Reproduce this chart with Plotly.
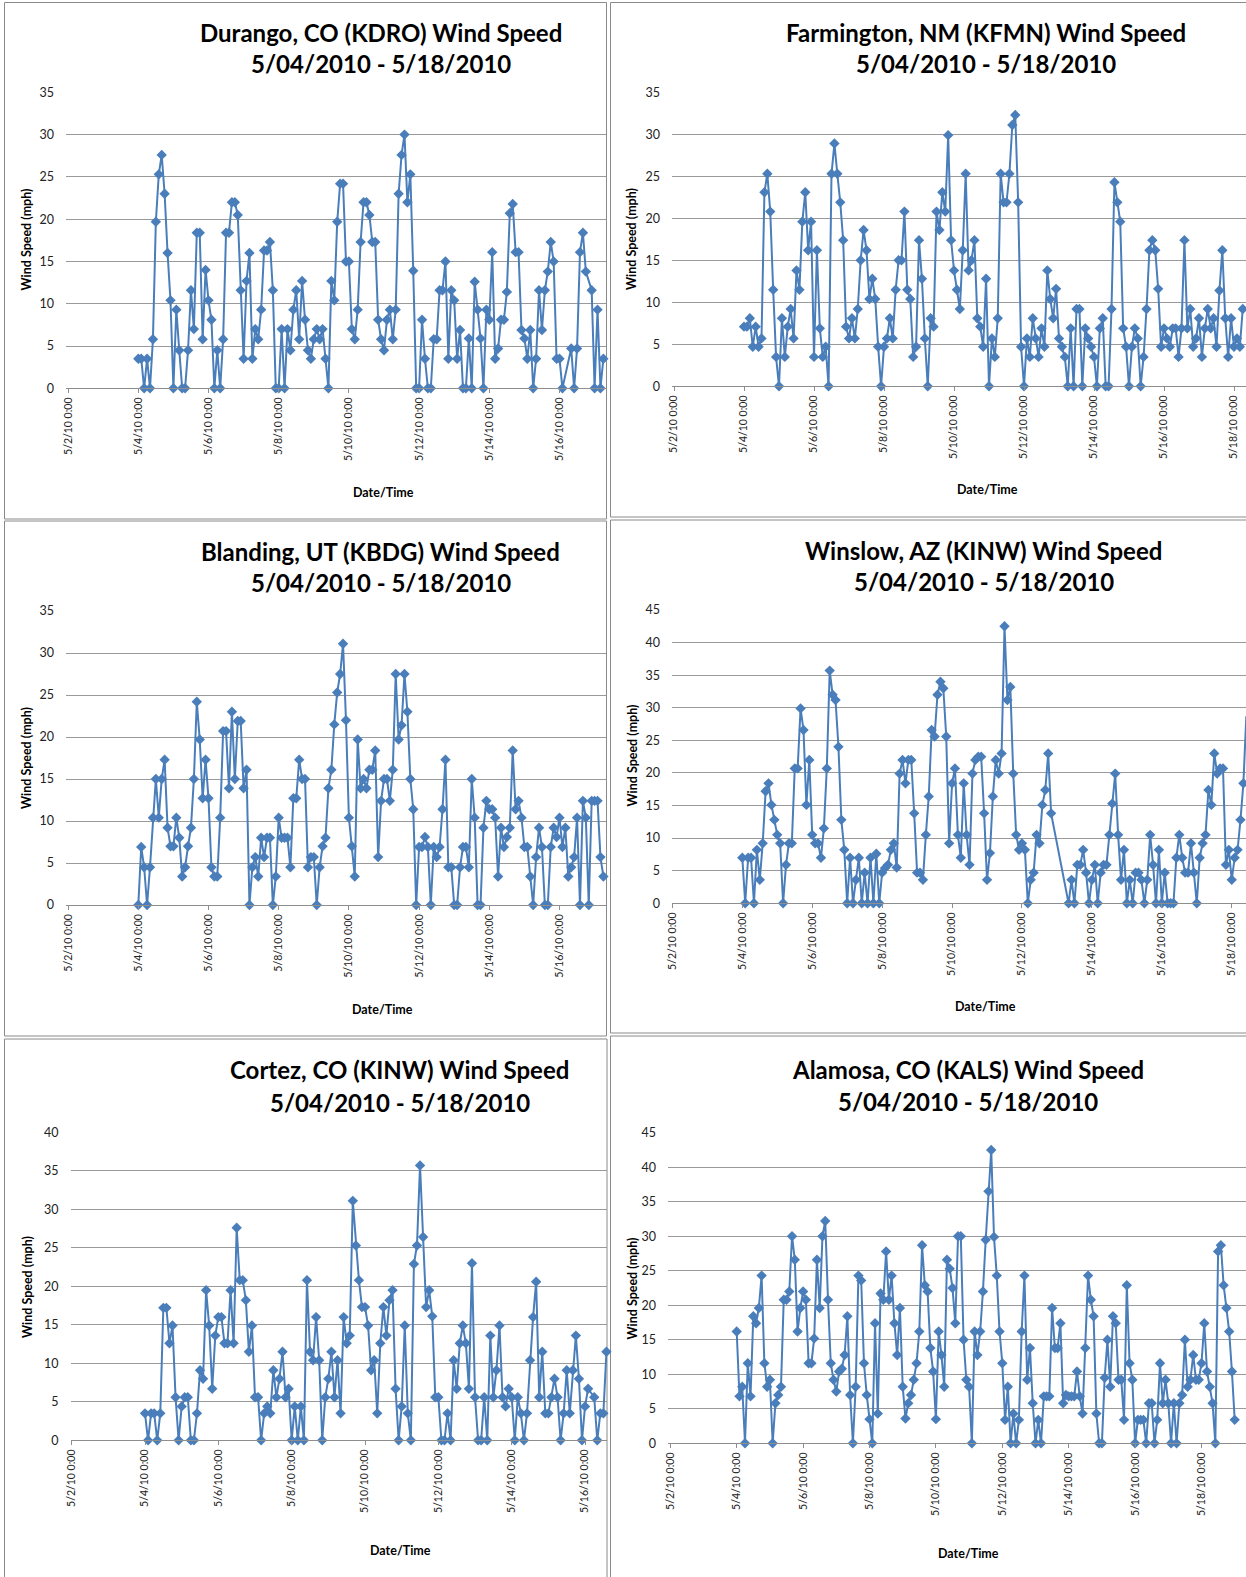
import pandas as pd
import plotly.graph_objects as go

W, H = 1246, 1577
START = pd.Timestamp("2010-05-04 00:00")
STEP = "2h"
BLUE = "#4A7EBB"
FONT = "Lato, 'Open Sans', sans-serif"

# ---------------- data: wind speed (mph), 2-hour readings from 5/4/2010 0:00 ----------------
durango = (
    [3.5, 3.5, 0, 3.5, 0, 5.8, 19.7, 25.3, 27.6, 23, 16, 10.4]
    + [0, 9.3, 4.5, 0, 0, 4.5, 11.6, 7, 18.4, 18.4, 5.8, 14]
    + [10.4, 8.1, 0, 4.5, 0, 5.8, 18.4, 18.4, 22, 22, 20.5, 11.6]
    + [3.5, 12.7, 16, 3.5, 7, 5.8, 9.3, 16.3, 16.3, 17.3, 11.6, 0]
    + [0, 7, 0, 7, 4.5, 9.3, 11.6, 5.8, 12.7, 8.1, 4.5, 3.5]
    + [5.8, 7, 5.8, 7, 3.5, 0, 12.7, 10.4, 19.7, 24.2, 24.2, 15]
    + [15, 7, 5.8, 9.3, 17.3, 22, 22, 20.5, 17.3, 17.3, 8.1, 5.8]
    + [4.5, 8.1, 9.3, 5.8, 9.3, 23, 27.6, 30, 22, 25.3, 13.9, 0]
    + [0, 8.1, 3.5, 0, 0, 5.8, 5.8, 11.6, 11.6, 15, 3.5, 11.6]
    + [10.4, 3.5, 6.9, 0, 0, 5.9, 0, 12.6, 9.3, 5.9, 0, 9.3]
    + [8.1, 16.1, 3.5, 4.7, 8.1, 8.1, 11.4, 20.7, 21.8, 16.1, 16.1, 6.9]
    + [5.9, 3.5, 6.9, 0, 3.5, 11.6, 6.9, 11.6, 13.8, 17.3, 15, 3.5]
    + [3.5, 0, None, None, 4.7, 0, 4.7, 16.1, 18.4, 13.8, None, 11.6]
    + [0, 9.3, 0, 3.5]
)
farmington = (
    [7.1, 7.1, 8.1, 4.7, 7.1, 4.7, 5.7, 23.1, 25.3, 20.8, 11.5, 3.5]
    + [0, 8.1, 3.5, 7.1, 9.2, 5.7, 13.8, 11.5, 19.6, 23.1, 16.2, 19.6]
    + [3.5, 16.2, 6.9, 3.5, 4.7, 0, 25.3, 28.9, 25.3, 21.9, 17.4, 7.1]
    + [5.7, 8.1, 5.7, 9.2, 15, 18.6, 16.2, 10.4, 12.8, 10.4, 4.7, 0]
    + [4.7, 5.7, 8.1, 5.7, 11.5, 15, 15, 20.8, 11.5, 10.4, 3.5, 4.7]
    + [17.4, 12.8, 5.7, 0, 8.1, 7.1, 20.8, 18.6, 23.1, 20.8, 29.9, 17.4]
    + [13.8, 11.5, 9.2, 16.2, 25.3, 13.8, 15, 17.4, 8.1, 7.1, 4.7, 12.8]
    + [0, 5.7, 3.5, 8.1, 25.3, 21.9, 21.9, 25.3, 31.1, 32.3, 21.9, 4.7]
    + [0, 5.7, 3.5, 8.1, 5.7, 3.5, 6.9, 4.7, 13.8, 10.4, 8.1, 11.6]
    + [5.7, 4.7, 3.5, 0, 6.9, 0, 9.2, 9.2, 0, 6.9, 5.7, 4.7]
    + [3.5, 0, 6.9, 8.1, 0, 0, 9.2, 24.3, 21.9, 19.6, 6.9, 4.7]
    + [0, 4.7, 6.9, 5.7, 0, 3.5, 9.2, 16.2, 17.4, 16.2, 11.6, 4.7]
    + [6.9, 5.7, 4.7, 6.9, 6.9, 3.5, 6.9, 17.4, 6.9, 9.2, 4.7, 5.7]
    + [8.1, 3.5, 6.9, 9.2, 6.9, 8.1, 4.7, 11.4, 16.2, 8.1, 3.5, 8.1]
    + [4.7, 5.7, 4.7, 9.2]
)
blanding = (
    [0, 6.9, 4.5, 0, 4.5, 10.4, 15, 10.4, 15, 17.3, 9.2, 7]
    + [7, 10.4, 8, 3.4, 4.5, 7, 9.2, 15, 24.2, 19.7, 12.7, 17.3]
    + [12.7, 4.5, 3.4, 3.4, 10.4, 20.7, 20.7, 13.9, 23, 15, 21.9, 21.9]
    + [13.9, 16.1, 0, 4.5, 5.7, 3.4, 8, 5.7, 8, 8, 0, 3.4]
    + [10.4, 8, 8, 8, 4.5, 12.7, 12.7, 17.3, 15, 15, 4.5, 5.7]
    + [5.7, 0, 4.5, 7, 8, 13.9, 16.1, 21.5, 25.3, 27.5, 31.1, 22]
    + [10.4, 7, 3.4, 19.7, 13.9, 15, 13.9, 16.1, 16.1, 18.4, 5.7, 12.4]
    + [15, 15, 12.4, 16.1, 27.5, 19.7, 21.4, 27.5, 23, 15, 11.4, 0]
    + [6.9, 6.9, 8.1, 6.9, 0, 6.9, 5.7, 6.9, 11.4, 17.3, 4.5, 4.5]
    + [0, 0, 4.5, 6.9, 6.9, 4.5, 15, 10.4, 0, 0, 9.2, 12.4]
    + [11.4, 11.4, 10.4, 3.4, 9.2, 6.9, 8.1, 9.2, 18.4, 11.4, 12.4, 10.4]
    + [6.9, 6.9, 3.4, 0, 5.7, 9.2, 6.9, 0, 0, 6.9, 9.2, 8.1]
    + [10.4, 6.9, 9.2, 3.4, 4.5, 5.7, 10.4, 0, 12.4, 10.4, 0, 12.4]
    + [12.4, 12.4, 5.7, 3.4]
)
winslow = (
    [7, 0, 7, 7, 0, 8.2, 3.6, 9.2, 17.2, 18.4, 15.1, 12.8]
    + [10.5, 9.2, 0, 5.9, 9.2, 9.2, 20.7, 20.7, 29.9, 26.6, 15.1, 22]
    + [10.5, 9.2, 9.2, 7, 11.5, 20.7, 35.7, 32, 31.2, 24, 12.8, 8.2]
    + [0, 7, 0, 3.6, 7, 0, 4.7, 0, 7, 0, 7.6, 0]
    + [4.7, 5.4, 5.9, 8.2, 9.2, 5.5, 19.9, 22, 18.4, 22, 22, 13.8]
    + [4.7, 4.7, 3.6, 10.5, 16.4, 26.6, 25.6, 32, 34, 33, 25.6, 9.2]
    + [18.4, 20.7, 10.5, 7, 18.4, 10.5, 5.9, 19.9, 22, 22.5, 22.5, 13.8]
    + [3.6, 7.7, 16.4, 22, 19.9, 23, 42.5, 31.2, 33.2, 19.9, 10.5, 8.2]
    + [9.2, 8.2, 0, 3.6, 4.7, 10.5, 9.2, 15.1, 17.4, 23, 13.8, None]
    + [None, None, None, None, 0, 3.6, 0, 5.9, 5.9, 8.2, 4.7, 0]
    + [3.6, 5.9, 0, 4.7, 5.9, 5.9, 10.5, 15.3, 19.9, 10.5, 3.6, 8.2]
    + [0, 3.6, 0, 4.7, 4.7, 3.6, 0, 3.6, 10.5, 5.9, 0, 8.2]
    + [0, 4.7, 0, 0, 0, 7, 10.5, 7, 4.7, 4.7, 9.2, 4.7]
    + [0, 7, 9.2, 10.5, 17.4, 15.1, 23, 19.9, 20.7, 20.7, 5.9, 8.2]
    + [3.6, 7, 8.2, 12.8, 18.4, 28.7]
)
cortez = (
    [3.5, 0, 3.5, 3.5, 0, 3.5, 17.2, 17.2, 12.6, 14.9, 5.6, 0]
    + [4.4, 5.6, 5.6, 0, 0, 3.5, 9.1, 8, 19.5, 14.9, 6.7, 13.6]
    + [16, 16, 12.6, 12.6, 19.5, 12.6, 27.6, 20.8, 20.8, 18.2, 11.5, 14.9]
    + [5.6, 5.6, 0, 3.5, 4.4, 3.5, 9.1, 5.6, 8, 11.5, 5.6, 6.7]
    + [0, 4.4, 0, 4.4, 0, 20.8, 11.5, 10.4, 16, 10.4, 0, 5.6]
    + [8, 11.5, 5.6, 10.4, 3.5, 16, 12.6, 13.6, 31.1, 25.3, 20.8, 17.3]
    + [17.3, 14.9, 9.1, 10.4, 3.5, 12.6, 17.3, 13.6, 18.2, 19.5, 6.7, 0]
    + [4.4, 14.9, 3.5, 0, 22.9, 25.3, 35.7, 26.4, 17.3, 19.5, 16.1, 5.6]
    + [5.6, 0, 0, 3.5, 0, 10.4, 6.7, 12.6, 14.9, 12.6, 6.7, 23]
    + [5.6, 0, 0, 5.6, 0, 13.6, 5.6, 9.1, 14.9, 5.6, 4.4, 6.7]
    + [5.6, 0, 5.6, 3.5, 0, 3.5, 10.4, 16, 20.6, 5.6, 11.5, 3.5]
    + [3.5, 5.6, 8, 5.6, 0, 3.5, 9.1, 3.5, 9.1, 13.6, 8, 0]
    + [4.4, 6.7, None, 5.6, 0, 3.5, 3.5, 11.5]
)
alamosa = (
    [16.2, 6.8, 8.2, 0, 11.6, 6.8, 18.4, 17.4, 19.6, 24.3, 11.6, 8.2]
    + [9.2, 0, 5.8, 7, 8.2, 20.8, 20.8, 22, 30, 26.6, 16.2, 19.6]
    + [22, 20.8, 11.6, 11.6, 15.2, 26.6, 19.6, 30, 32.2, 20.8, 11.6, 9.2]
    + [7.5, 10.4, 10.8, 12.8, 18.4, 7, 0, 8.2, 24.3, 23.6, 11.6, 7]
    + [3.5, 0, 17.4, 4.3, 21.7, 20.8, 27.8, 20.8, 24.3, 17.4, 12.8, 19.6]
    + [8.2, 3.6, 5.8, 7, 9.2, 11.6, 16.2, 28.7, 22.9, 22, 13.8, 10.4]
    + [3.5, 16.2, 12.8, 8.2, 26.6, 25.3, 22.5, 17.4, 30, 30, 15, 9.2]
    + [8.2, 0, 16.2, 12.8, 16.2, 22, 29.5, 36.5, 42.5, 29.9, 24.3, 16.2]
    + [11.6, 3.4, 8.2, 0, 4.3, 0, 3.4, 16.2, 24.3, 9.2, 13.8, 5.8]
    + [0, 3.4, 0, 6.8, 6.8, 6.8, 19.6, 13.8, 13.8, 17.4, 5.8, 7]
    + [6.8, 6.8, 6.8, 10.4, 6.8, 4.3, 13.8, 24.3, 20.8, 18.4, 4.3, 0]
    + [0, 9.5, 15, 8.2, 18.4, 17.4, 9.2, 9.2, 3.4, 22.9, 11.6, 9.2]
    + [0, 3.4, 3.4, 3.4, 0, 5.8, 5.8, 0, 3.4, 11.6, 5.8, 9.2]
    + [5.8, 0, 5.8, 0, 5.8, 7, 15, 8.2, 9.2, 12.8, 9.2, 9.2]
    + [11.6, 17.4, 10.4, 8.2, 5.8, 0, 27.8, 28.7, 22.9, 19.6, 16.2, 10.4, 3.4]
)

titles = [
    "Durango, CO (KDRO) Wind Speed",
    "Farmington, NM (KFMN) Wind Speed",
    "Blanding, UT (KBDG) Wind Speed",
    "Winslow, AZ (KINW) Wind Speed",
    "Cortez, CO (KINW) Wind Speed",
    "Alamosa, CO (KALS) Wind Speed",
]
subtitle = "5/04/2010 - 5/18/2010"
y_title = "Wind Speed (mph)"
x_title = "Date/Time"
tick_days = pd.date_range("2010-05-02", "2010-05-20", freq="2D")
tick_text = [f"{d.month}/{d.day}/10 0:00" for d in tick_days]

# ---------------- layout geometry (pixels) ----------------
panels = [
    dict(vals=durango, ymax=35, x54=138.3, pday=35.1, left=66, right=606, ytop=92.3, ybot=388.3,
         box=(4.5, 2.5, 606.5, 519), tx=381, t1=32.5, t2=63.5, yt=(26, 239.5), xt=(383, 492)),
    dict(vals=farmington, ymax=35, x54=744.0, pday=35.0, left=672, right=1246, ytop=92.3, ybot=386.3,
         box=(610.5, 2.5, 1252, 517), tx=986, t1=32.5, t2=63.5, yt=(631.5, 239.5), xt=(987.5, 489)),
    dict(vals=blanding, ymax=35, x54=138.3, pday=35.1, left=66, right=606, ytop=611, ybot=905,
         box=(4.5, 521, 606.5, 1036), tx=380.7, t1=551, t2=582.5, yt=(26, 758), xt=(382, 1009)),
    dict(vals=winslow, ymax=45, x54=742.3, pday=34.96, left=672, right=1246, ytop=610, ybot=903.3,
         box=(610.5, 520, 1252, 1033), tx=983.6, t1=550, t2=581.5, yt=(631.5, 756), xt=(985.5, 1006)),
    dict(vals=cortez, ymax=40, x54=145.0, pday=36.67, left=70.5, right=607, ytop=1132.3, ybot=1440.3,
         box=(4.5, 1039, 607, 1590), tx=399.8, t1=1069, t2=1102, yt=(27, 1287), xt=(400, 1550)),
    dict(vals=alamosa, ymax=45, x54=736.7, pday=33.2, left=668, right=1246, ytop=1132.7, ybot=1443.3,
         box=(610.5, 1036, 1252, 1590), tx=967.5, t1=1069, t2=1101, yt=(631.5, 1289), xt=(968.5, 1553)),
]


def px(x):
    return x / W


def py(y):
    return 1 - y / H


fig = go.Figure()
layout = {}
annotations = []
shapes = []

for i, p in enumerate(panels, start=1):
    xa = "x" if i == 1 else f"x{i}"
    ya = "y" if i == 1 else f"y{i}"
    times = pd.date_range(START, periods=len(p["vals"]), freq=STEP)
    fig.add_trace(go.Scatter(
        x=times, y=p["vals"], mode="lines+markers", connectgaps=True,
        xaxis=xa, yaxis=ya, showlegend=False, cliponaxis=False, hoverinfo="skip",
        line=dict(color=BLUE, width=2),
        marker=dict(symbol="diamond", size=8, color=BLUE),
    ))
    x0 = START + pd.Timedelta(days=(p["left"] - p["x54"]) / p["pday"])
    x1 = START + pd.Timedelta(days=(p["right"] - p["x54"]) / p["pday"])
    layout[f"xaxis{i}"] = dict(
        domain=[px(p["left"]), px(p["right"])], anchor=ya, type="date", automargin=False,
        range=[x0, x1], tickmode="array", tickvals=list(tick_days), ticktext=tick_text,
        tickangle=-90, tickfont=dict(family=FONT, size=10.5, color="#222"),
        showgrid=False, showline=True, linecolor="#8e8e8e", linewidth=1,
        ticks="outside", ticklen=4, tickcolor="#8e8e8e", zeroline=False,
    )
    layout[f"yaxis{i}"] = dict(
        domain=[py(p["ybot"]), py(p["ytop"])], anchor=xa, range=[0, p["ymax"]], automargin=False,
        tickmode="linear", tick0=0, dtick=5, showgrid=True, gridcolor="#9a9a9a",
        gridwidth=1, zeroline=False, showline=False, ticks="",
        tickfont=dict(family=FONT, size=12.5, color="#222"), ticklabelstandoff=11,
    )
    bx0, by0, bx1, by1 = p["box"]
    shapes.append(dict(type="rect", xref="paper", yref="paper",
                       x0=px(bx0), x1=px(bx1), y0=py(by1), y1=py(by0),
                       line=dict(color="#8a8a8a", width=1), layer="below"))
    annotations += [
        dict(text=f"<b>{titles[i-1]}</b>", x=px(p["tx"]), y=py(p["t1"]), xref="paper", yref="paper",
             showarrow=False, xanchor="center", yanchor="middle",
             font=dict(family=FONT, size=24, color="#000")),
        dict(text=f"<b>{subtitle}</b>", x=px(p["tx"]), y=py(p["t2"]), xref="paper", yref="paper",
             showarrow=False, xanchor="center", yanchor="middle",
             font=dict(family=FONT, size=24, color="#000")),
        dict(text=f"<b>{y_title}</b>", x=px(p["yt"][0]), y=py(p["yt"][1]), xref="paper", yref="paper",
             showarrow=False, xanchor="center", yanchor="middle", textangle=-90,
             font=dict(family=FONT, size=12.5, color="#000")),
        dict(text=f"<b>{x_title}</b>", x=px(p["xt"][0]), y=py(p["xt"][1]), xref="paper", yref="paper",
             showarrow=False, xanchor="center", yanchor="middle",
             font=dict(family=FONT, size=12.5, color="#000")),
    ]

fig.update_layout(
    template="none",
    width=W, height=H, margin=dict(l=0, r=0, t=0, b=0, pad=0), autosize=False,
    paper_bgcolor="white", plot_bgcolor="white",
    annotations=annotations, shapes=shapes, **layout,
)
fig.write_html(
    "out.html",
    config={"displayModeBar": False},
    post_script="document.body.style.margin='0';document.body.style.padding='0';"
                "document.body.style.overflow='hidden';",
)
